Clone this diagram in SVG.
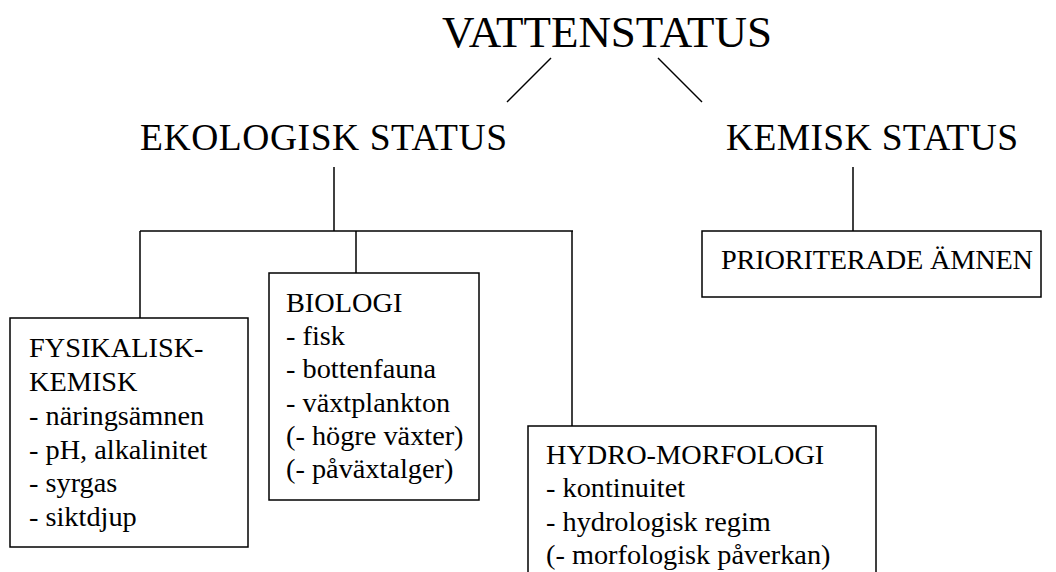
<svg xmlns="http://www.w3.org/2000/svg" width="1056" height="572" viewBox="0 0 1056 572">
<style>
text{font-family:"Liberation Serif","Times New Roman",serif;fill:#000}
.t1{font-size:45px}
.t2{font-size:37.5px}
.t3{font-size:28.3px}
.box{fill:#fff;stroke:#000;stroke-width:1.5}
.ln{stroke:#000;stroke-width:1.5;fill:none}
</style>
<rect width="1056" height="572" fill="#fff"/>
<g id="connectors">
<line class="ln" x1="551" y1="58" x2="507" y2="102"/>
<line class="ln" x1="658" y1="58" x2="702" y2="102"/>
<line class="ln" x1="334" y1="167" x2="334" y2="231"/>
<line class="ln" x1="140" y1="231" x2="573" y2="231"/>
<line class="ln" x1="140" y1="231" x2="140" y2="318"/>
<line class="ln" x1="356" y1="231" x2="356" y2="273"/>
<line class="ln" x1="572" y1="231" x2="572" y2="426"/>
<line class="ln" x1="853" y1="167" x2="853" y2="231"/>
</g>
<g id="vattenstatus"><text class="t1" x="442" y="47" textLength="330">VATTENSTATUS</text></g>
<g id="ekologisk"><text class="t2" x="140" y="150" textLength="367">EKOLOGISK STATUS</text></g>
<g id="kemisk"><text class="t2" x="726" y="150" textLength="292">KEMISK STATUS</text></g>
<g id="prioriterade">
<rect class="box" x="702" y="231" width="339" height="66"/>
<text class="t3" x="721" y="269" textLength="312">PRIORITERADE ÄMNEN</text>
</g>
<g id="fysikalisk">
<rect class="box" x="10" y="318" width="238" height="229"/>
<text class="t3" x="29" y="357">FYSIKALISK-</text>
<text class="t3" x="29" y="391">KEMISK</text>
<text class="t3" x="29" y="425">- näringsämnen</text>
<text class="t3" x="29" y="458.5">- pH, alkalinitet</text>
<text class="t3" x="29" y="492">- syrgas</text>
<text class="t3" x="29" y="525.5">- siktdjup</text>
</g>
<g id="biologi">
<rect class="box" x="269" y="273" width="210" height="227"/>
<text class="t3" x="286" y="311.7">BIOLOGI</text>
<text class="t3" x="286" y="345">- fisk</text>
<text class="t3" x="286" y="378.3">- bottenfauna</text>
<text class="t3" x="286" y="411.6">- växtplankton</text>
<text class="t3" x="286" y="444.9">(- högre växter)</text>
<text class="t3" x="286" y="478.2">(- påväxtalger)</text>
</g>
<g id="hydro">
<rect class="box" x="528" y="426" width="348" height="160"/>
<text class="t3" x="546" y="464">HYDRO-MORFOLOGI</text>
<text class="t3" x="546" y="497.3">- kontinuitet</text>
<text class="t3" x="546" y="530.6">- hydrologisk regim</text>
<text class="t3" x="546" y="563.9">(- morfologisk påverkan)</text>
</g>
</svg>
